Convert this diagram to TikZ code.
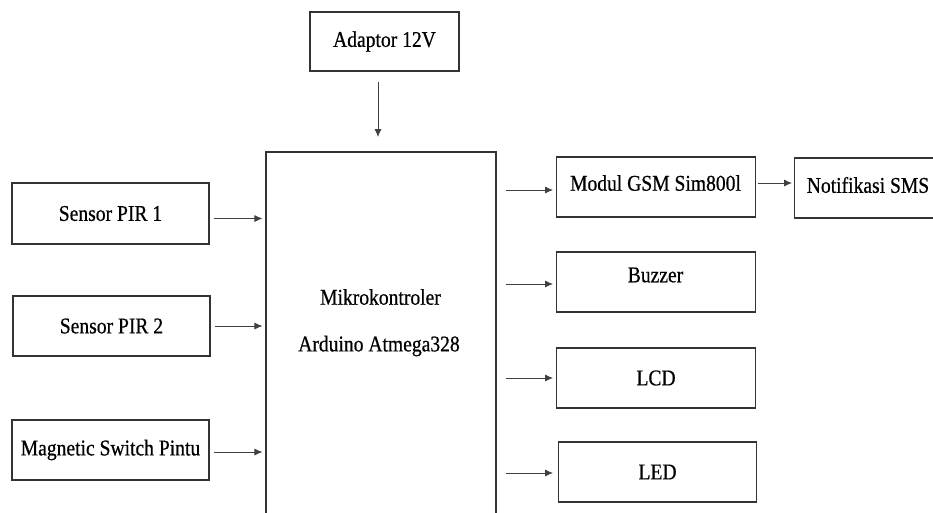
\documentclass[tikz,border=0pt]{standalone}
\usepackage{fontspec}
\setmainfont{Liberation Serif}[FakeStretch=0.87,FakeBold=0.6]
\usetikzlibrary{arrows.meta}
\begin{document}
\begin{tikzpicture}[x=1pt,y=-1pt,
  blk/.style={draw=black!80, line width=1.1pt, rectangle, inner sep=0pt, font=\fontsize{22.5}{26}\selectfont},
  arr/.style={draw=black!75, line width=0.8pt, -{Latex[length=8pt,width=7pt]}},
  txt/.style={inner sep=0pt, font=\fontsize{22.5}{26}\selectfont}]
\useasboundingbox (0,0) rectangle (933,512);
% boxes
\node[blk, minimum width=149pt, minimum height=59pt] (adp) at (384.5,41.5) {Adaptor 12V};
\node[blk, minimum width=230pt, minimum height=362pt] (main) at (381,333) {};
\node[txt] (mk1) at (380.5,297) {Mikrokontroler};
\node[txt] (mk2) at (379,346) {Arduino Atmega328};
\node[blk, minimum width=197pt, minimum height=61pt] (s1) at (110.5,213.5) {Sensor PIR 1};
\node[blk, minimum width=197pt, minimum height=60pt] (s2) at (111.5,326) {Sensor PIR 2};
\node[blk, minimum width=197pt, minimum height=60pt] (mag) at (110.5,450) {Magnetic Switch Pintu};
\node[blk, minimum width=199pt, minimum height=60pt, anchor=west] (gsmb) at (556,187) {};
\node[txt] (gsmt) at (655.5,183) {Modul GSM Sim800l};
\node[blk, minimum width=150pt, minimum height=60pt, anchor=west] (sms) at (794,188) {};
\node[txt] (smst) at (868,185) {Notifikasi SMS};
\node[blk, minimum width=199pt, minimum height=60pt, anchor=west] (buz) at (556,282) {};
\node[txt] (buzt) at (655.5,275) {Buzzer};
\node[blk, minimum width=199pt, minimum height=60pt, anchor=west] (lcd) at (556,378) {LCD};
\node[blk, minimum width=198pt, minimum height=60pt, anchor=west] (led) at (558,472) {LED};
% connectors
\coordinate (adpo) at (378,82);
\coordinate (adpi) at (378,137);
\draw[arr] (adpo) -- (adpi);
\draw[arr, shorten <=4pt, shorten >=3pt] ([yshift=-5pt]s1.east) -- ([yshift=-5pt]s1.east -| main.west);
\draw[arr, shorten <=4pt, shorten >=3pt] (s2.east) -- (s2.east -| main.west);
\draw[arr, shorten <=4pt, shorten >=3pt] ([yshift=-2pt]mag.east) -- ([yshift=-2pt]mag.east -| main.west);
\draw[arr, shorten <=9pt, shorten >=3pt] ([yshift=-3pt]gsmb.west -| main.east) -- ([yshift=-3pt]gsmb.west);
\draw[arr, shorten <=9pt, shorten >=3pt] ([yshift=-2pt]buz.west -| main.east) -- ([yshift=-2pt]buz.west);
\draw[arr, shorten <=9pt, shorten >=3pt] (lcd.west -| main.east) -- (lcd.west);
\draw[arr, shorten <=9pt, shorten >=5pt] ([yshift=-1pt]led.west -| main.east) -- ([yshift=-1pt]led.west);
\draw[arr, shorten <=2pt, shorten >=2pt] ([yshift=4pt]gsmb.east) -- ([yshift=4pt]gsmb.east -| sms.west);
\end{tikzpicture}
\end{document}
